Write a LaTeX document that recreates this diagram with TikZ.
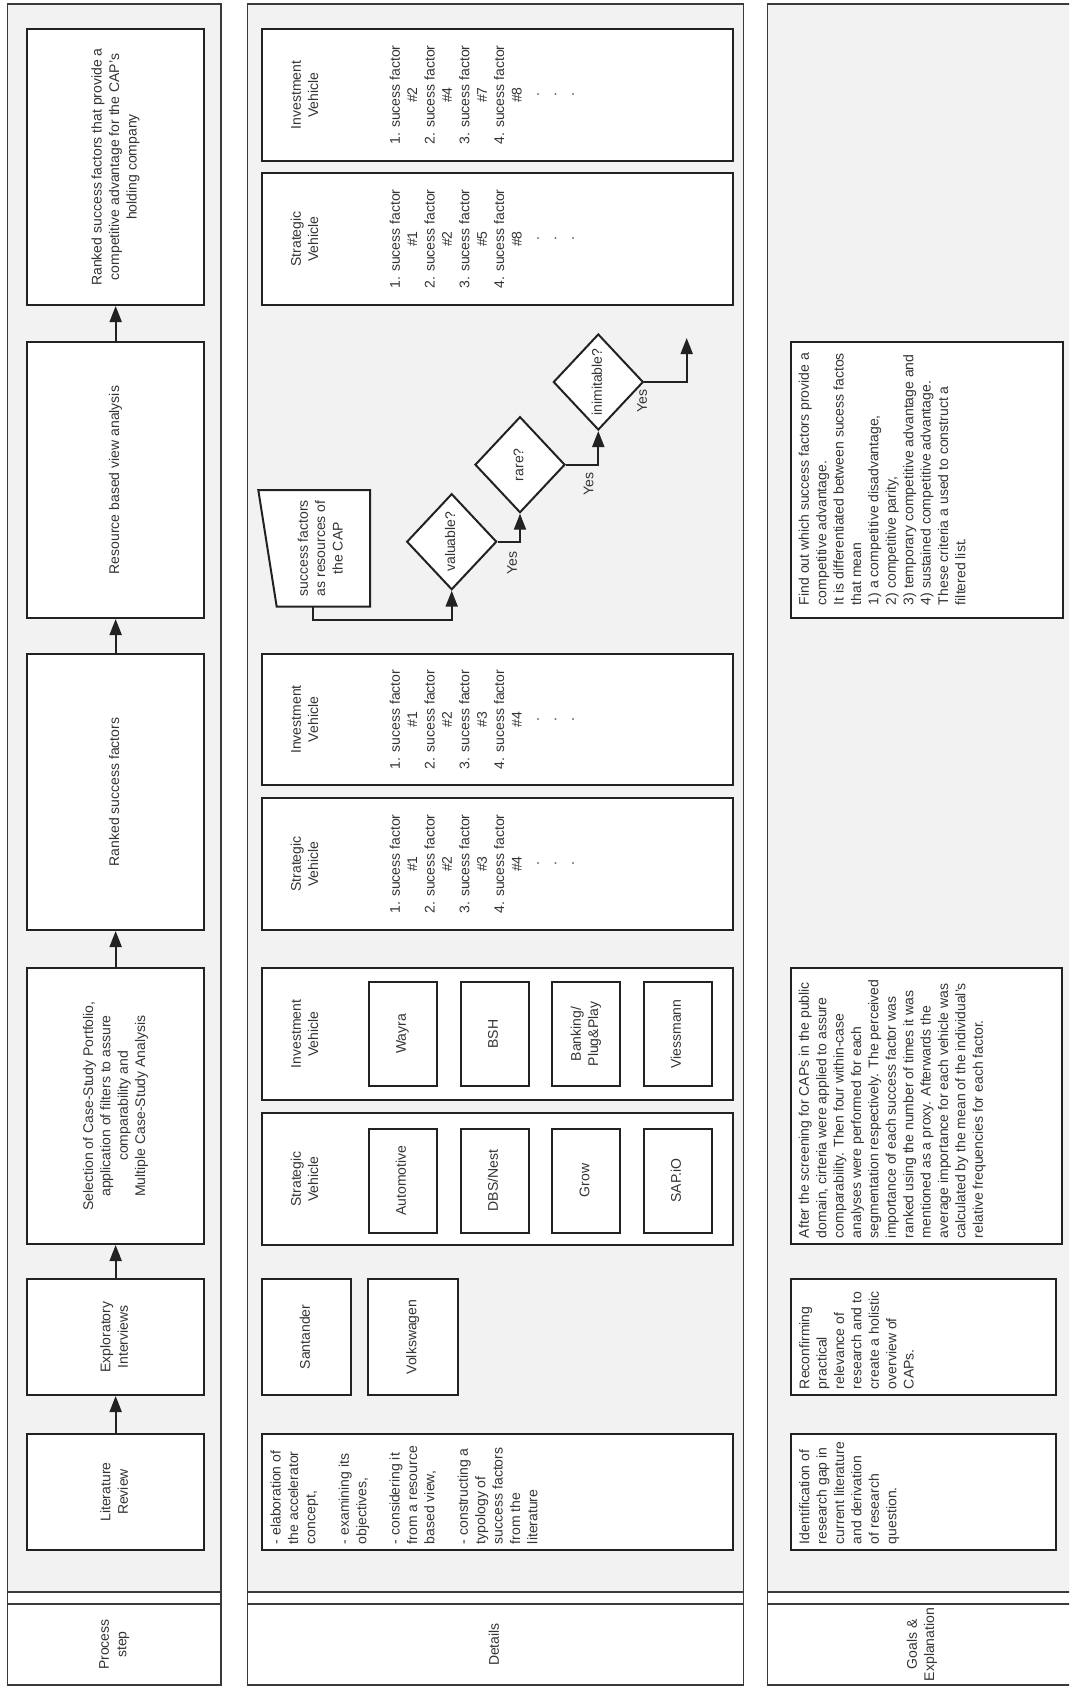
\documentclass[tikz,border=0pt]{standalone}
\usepackage{fontspec}
\setmainfont{Liberation Sans}
\usepackage{graphicx}
\usetikzlibrary{arrows.meta,shapes.geometric,calc}
\definecolor{lanegray}{HTML}{F2F2F2}
\definecolor{lanecol}{HTML}{3A3A3A}
\definecolor{boxcol}{HTML}{222222}
\definecolor{txtcol}{HTML}{333333}
\newcommand{\fs}{\fontsize{14}{17.4}\selectfont}
\newcommand{\ctext}[1]{\rotatebox{90}{\begin{tabular}{@{}c@{}}#1\end{tabular}}}
\newcommand{\ltext}[3]{\rotatebox{90}{\parbox[c][#2][t]{#1}{\begin{tabular}{@{}l@{}}#3\end{tabular}}}}
\hbadness=10000 \hfuzz=50pt
\begin{document}
\begin{tikzpicture}[x=1pt,y=-1pt,
  laneline/.style={draw=lanecol, line width=1.8pt},
  pbox/.style={draw=boxcol, line width=2pt, fill=white, inner sep=0pt, font=\fs, text=txtcol},
  txt/.style={inner sep=0pt, font=\fs, text=txtcol},
  arr/.style={draw=boxcol, line width=2pt, -{Triangle[length=16pt,width=12pt]}},
  dia/.style={diamond, draw=boxcol, line width=2pt, fill=white, inner sep=0pt,
              minimum width=90pt, minimum height=96pt, font=\fs, text=txtcol},
]
\useasboundingbox (0,0) rectangle (1069,1690);
\clip (0,0) rectangle (1069,1690);
\fill[white] (0,0) rectangle (1069,1690);

% ---------- lanes ----------
\foreach \xa/\xb in {7.5/221, 247.5/743.5, 767.5/1078}{
  \fill[lanegray] (\xa,4) rectangle (\xb,1592);
  \draw[laneline] (\xa,4) rectangle (\xb,1685);
  \draw[laneline] (\xa,1592) -- (\xb,1592);
  \draw[laneline] (\xa,1604) -- (\xb,1604);
}
\node[txt] (h1) at (114.2,1644.5) {\ctext{Process\\step}};
\node[txt] (h2) at (495.5,1644.5) {\ctext{Details}};
\node[txt] (h3) at (922,1644.5) {\ctext{Goals \&\\Explanation}};

% ---------- lane 1: process steps ----------
\node[pbox, minimum width=176.7pt, minimum height=116pt] (pF) at (115.65,1492) {\ctext{Literature\\Review}};
\node[pbox, minimum width=176.7pt, minimum height=116pt] (pE) at (115.65,1337) {\ctext{Exploratory\\Interviews}};
\node[pbox, minimum width=176.7pt, minimum height=276pt] (pD) at (115.65,1106) {\ctext{Selection of Case-Study Portfolio,\\application of filters to assure\\comparability and\\Multiple Case-Study Analysis}};
\node[pbox, minimum width=176.7pt, minimum height=276pt] (pC) at (115.65,792) {\ctext{Ranked success factors}};
\node[pbox, minimum width=176.7pt, minimum height=276pt] (pB) at (115.65,480) {\ctext{Resource based view analysis}};
\node[pbox, minimum width=176.7pt, minimum height=276pt] (pA) at (115.65,167) {\ctext{Ranked success factors that provide a\\competitive advantage for the CAP's\\holding company}};
\draw[arr] (pF.north) -- (pE.south);
\draw[arr] (pE.north) -- (pD.south);
\draw[arr] (pD.north) -- (pC.south);
\draw[arr] (pC.north) -- (pB.south);
\draw[arr] (pB.north) -- (pA.south);

% ---------- lane 2: details ----------
% row A
\node[pbox, minimum width=470.4pt, minimum height=132pt] (aInv) at (497.5,95) {};
\node[txt] (aInvT) at (306,95) {\ctext{Investment\\Vehicle}};
\node[txt] (aInvL) at (483.3,95) {\ctext{1. sucess factor\\\#2\\2. sucess factor\\\#4\\3. sucess factor\\\#7\\4. sucess factor\\\#8\\.\\.\\.}};
\node[pbox, minimum width=470.4pt, minimum height=132pt] (aStr) at (497.5,239) {};
\node[txt] (aStrT) at (306,239) {\ctext{Strategic\\Vehicle}};
\node[txt] (aStrL) at (483.3,239) {\ctext{1. sucess factor\\\#1\\2. sucess factor\\\#2\\3. sucess factor\\\#5\\4. sucess factor\\\#8\\.\\.\\.}};

% row B: flowchart
\coordinate (sfTL) at (258.3,490);
\coordinate (sfTR) at (370,490);
\coordinate (sfBR) at (370,606.7);
\coordinate (sfBL) at (276.7,606.7);
\draw[draw=boxcol, line width=2pt, fill=white] (sfTL) -- (sfTR) -- (sfBR) -- (sfBL) -- cycle;
\node[txt] (sf) at (321.7,548.3) {\ctext{success factors\\as resources of\\the CAP}};
\coordinate (sfB) at (313.3,606.7);
\node[dia] (val) at (451.7,541.7) {\ctext{valuable?}};
\node[dia] (rare) at (520,464.7) {\ctext{rare?}};
\node[dia] (inim) at (598.3,382) {\ctext{inimitable?}};
\coordinate (fend) at (686.7,338);
\draw[arr] (sfB) -- ++(0,13.3) -| (val.south);
\draw[arr] (val.east) -| (rare.south);
\draw[arr] (rare.east) -| (inim.south);
\draw[arr] (inim.east) -| (fend);
\node[txt] (yes1) at (513.3,563.3) {\ctext{Yes}};
\node[txt] (yes2) at (590,484) {\ctext{Yes}};
\node[txt] (yes3) at (643.3,401) {\ctext{Yes}};

% row C
\node[pbox, minimum width=470.4pt, minimum height=131pt] (cInv) at (497.5,719.5) {};
\node[txt] (cInvT) at (306,719.5) {\ctext{Investment\\Vehicle}};
\node[txt] (cInvL) at (483.3,719.5) {\ctext{1. sucess factor\\\#1\\2. sucess factor\\\#2\\3. sucess factor\\\#3\\4. sucess factor\\\#4\\.\\.\\.}};
\node[pbox, minimum width=470.4pt, minimum height=132pt] (cStr) at (497.5,864) {};
\node[txt] (cStrT) at (306,864) {\ctext{Strategic\\Vehicle}};
\node[txt] (cStrL) at (483.3,864) {\ctext{1. sucess factor\\\#1\\2. sucess factor\\\#2\\3. sucess factor\\\#3\\4. sucess factor\\\#4\\.\\.\\.}};

% row D
\node[pbox, minimum width=470.4pt, minimum height=132pt] (dInv) at (497.5,1034) {};
\node[txt] (dInvT) at (306,1034) {\ctext{Investment\\Vehicle}};
\node[pbox, minimum width=68pt, minimum height=104pt] (dI1) at (402.5,1034) {\ctext{Wayra}};
\node[pbox, minimum width=68pt, minimum height=104pt] (dI2) at (494.5,1034) {\ctext{BSH}};
\node[pbox, minimum width=68pt, minimum height=104pt] (dI3) at (586,1034) {\ctext{Banking/\\Plug\&Play}};
\node[pbox, minimum width=68pt, minimum height=104pt] (dI4) at (677.5,1034) {\ctext{Viessmann}};
\node[pbox, minimum width=470.4pt, minimum height=132pt] (dStr) at (497.5,1179) {};
\node[txt] (dStrT) at (306,1179) {\ctext{Strategic\\Vehicle}};
\node[pbox, minimum width=68pt, minimum height=104pt] (dS1) at (402.5,1180.5) {\ctext{Automotive}};
\node[pbox, minimum width=68pt, minimum height=104pt] (dS2) at (494.5,1180.5) {\ctext{DBS/Nest}};
\node[pbox, minimum width=68pt, minimum height=104pt] (dS3) at (586,1180.5) {\ctext{Grow}};
\node[pbox, minimum width=68pt, minimum height=104pt] (dS4) at (677.5,1180.5) {\ctext{SAP.iO}};

% row E
\node[pbox, minimum width=88.4pt, minimum height=116pt] (eSan) at (306.5,1337) {\ctext{Santander}};
\node[pbox, minimum width=89.4pt, minimum height=116pt] (eVW) at (413,1337) {\ctext{Volkswagen}};

% row F
\node[pbox, minimum width=470.4pt, minimum height=116pt] (fDet) at (497.5,1492)
  {\ltext{104pt}{458pt}{- elaboration of\\the accelerator\\concept,\\[16pt]- examining its\\objectives,\\[16pt]- considering it\\from a resource\\based view,\\[16pt]- constructing a\\typology of\\success factors\\from the\\literature}};

% ---------- lane 3: goals ----------
\node[pbox, minimum width=272pt, minimum height=276pt] (gB) at (926.7,480)
  {\ltext{250pt}{260pt}{Find out which success factors provide a\\competitive advantage.\\It is differentiated between sucess factos\\that mean\\1) a competitive disadvantage,\\2) competitive parity,\\3) temporary competitive advantage and\\4) sustained competitive advantage.\\These criteria a used to construct a\\filtered list.}};
\node[pbox, minimum width=271pt, minimum height=276pt] (gD) at (926.2,1106)
  {\ltext{264pt}{259pt}{After the screening for CAPs in the public\\domain, cirteria were applied to assure\\comparability. Then four within-case\\analyses were performed for each\\segmentation respectively. The perceived\\importance of each success factor was\\ranked using the number of times it was\\mentioned as a proxy. Afterwards the\\average importance for each vehicle was\\calculated by the mean of the individual's\\relative frequencies for each factor.}};
\node[pbox, minimum width=264.8pt, minimum height=116pt] (gE) at (923.1,1337)
  {\ltext{104pt}{252pt}{Reconfirming\\practical\\relevance of\\research and to\\create a holistic\\overview of\\CAPs.}};
\node[pbox, minimum width=264.8pt, minimum height=116pt] (gF) at (923.1,1492)
  {\ltext{104pt}{252pt}{Identification of\\research gap in\\current literature\\and derivation\\of research\\question.}};
\end{tikzpicture}
\end{document}
